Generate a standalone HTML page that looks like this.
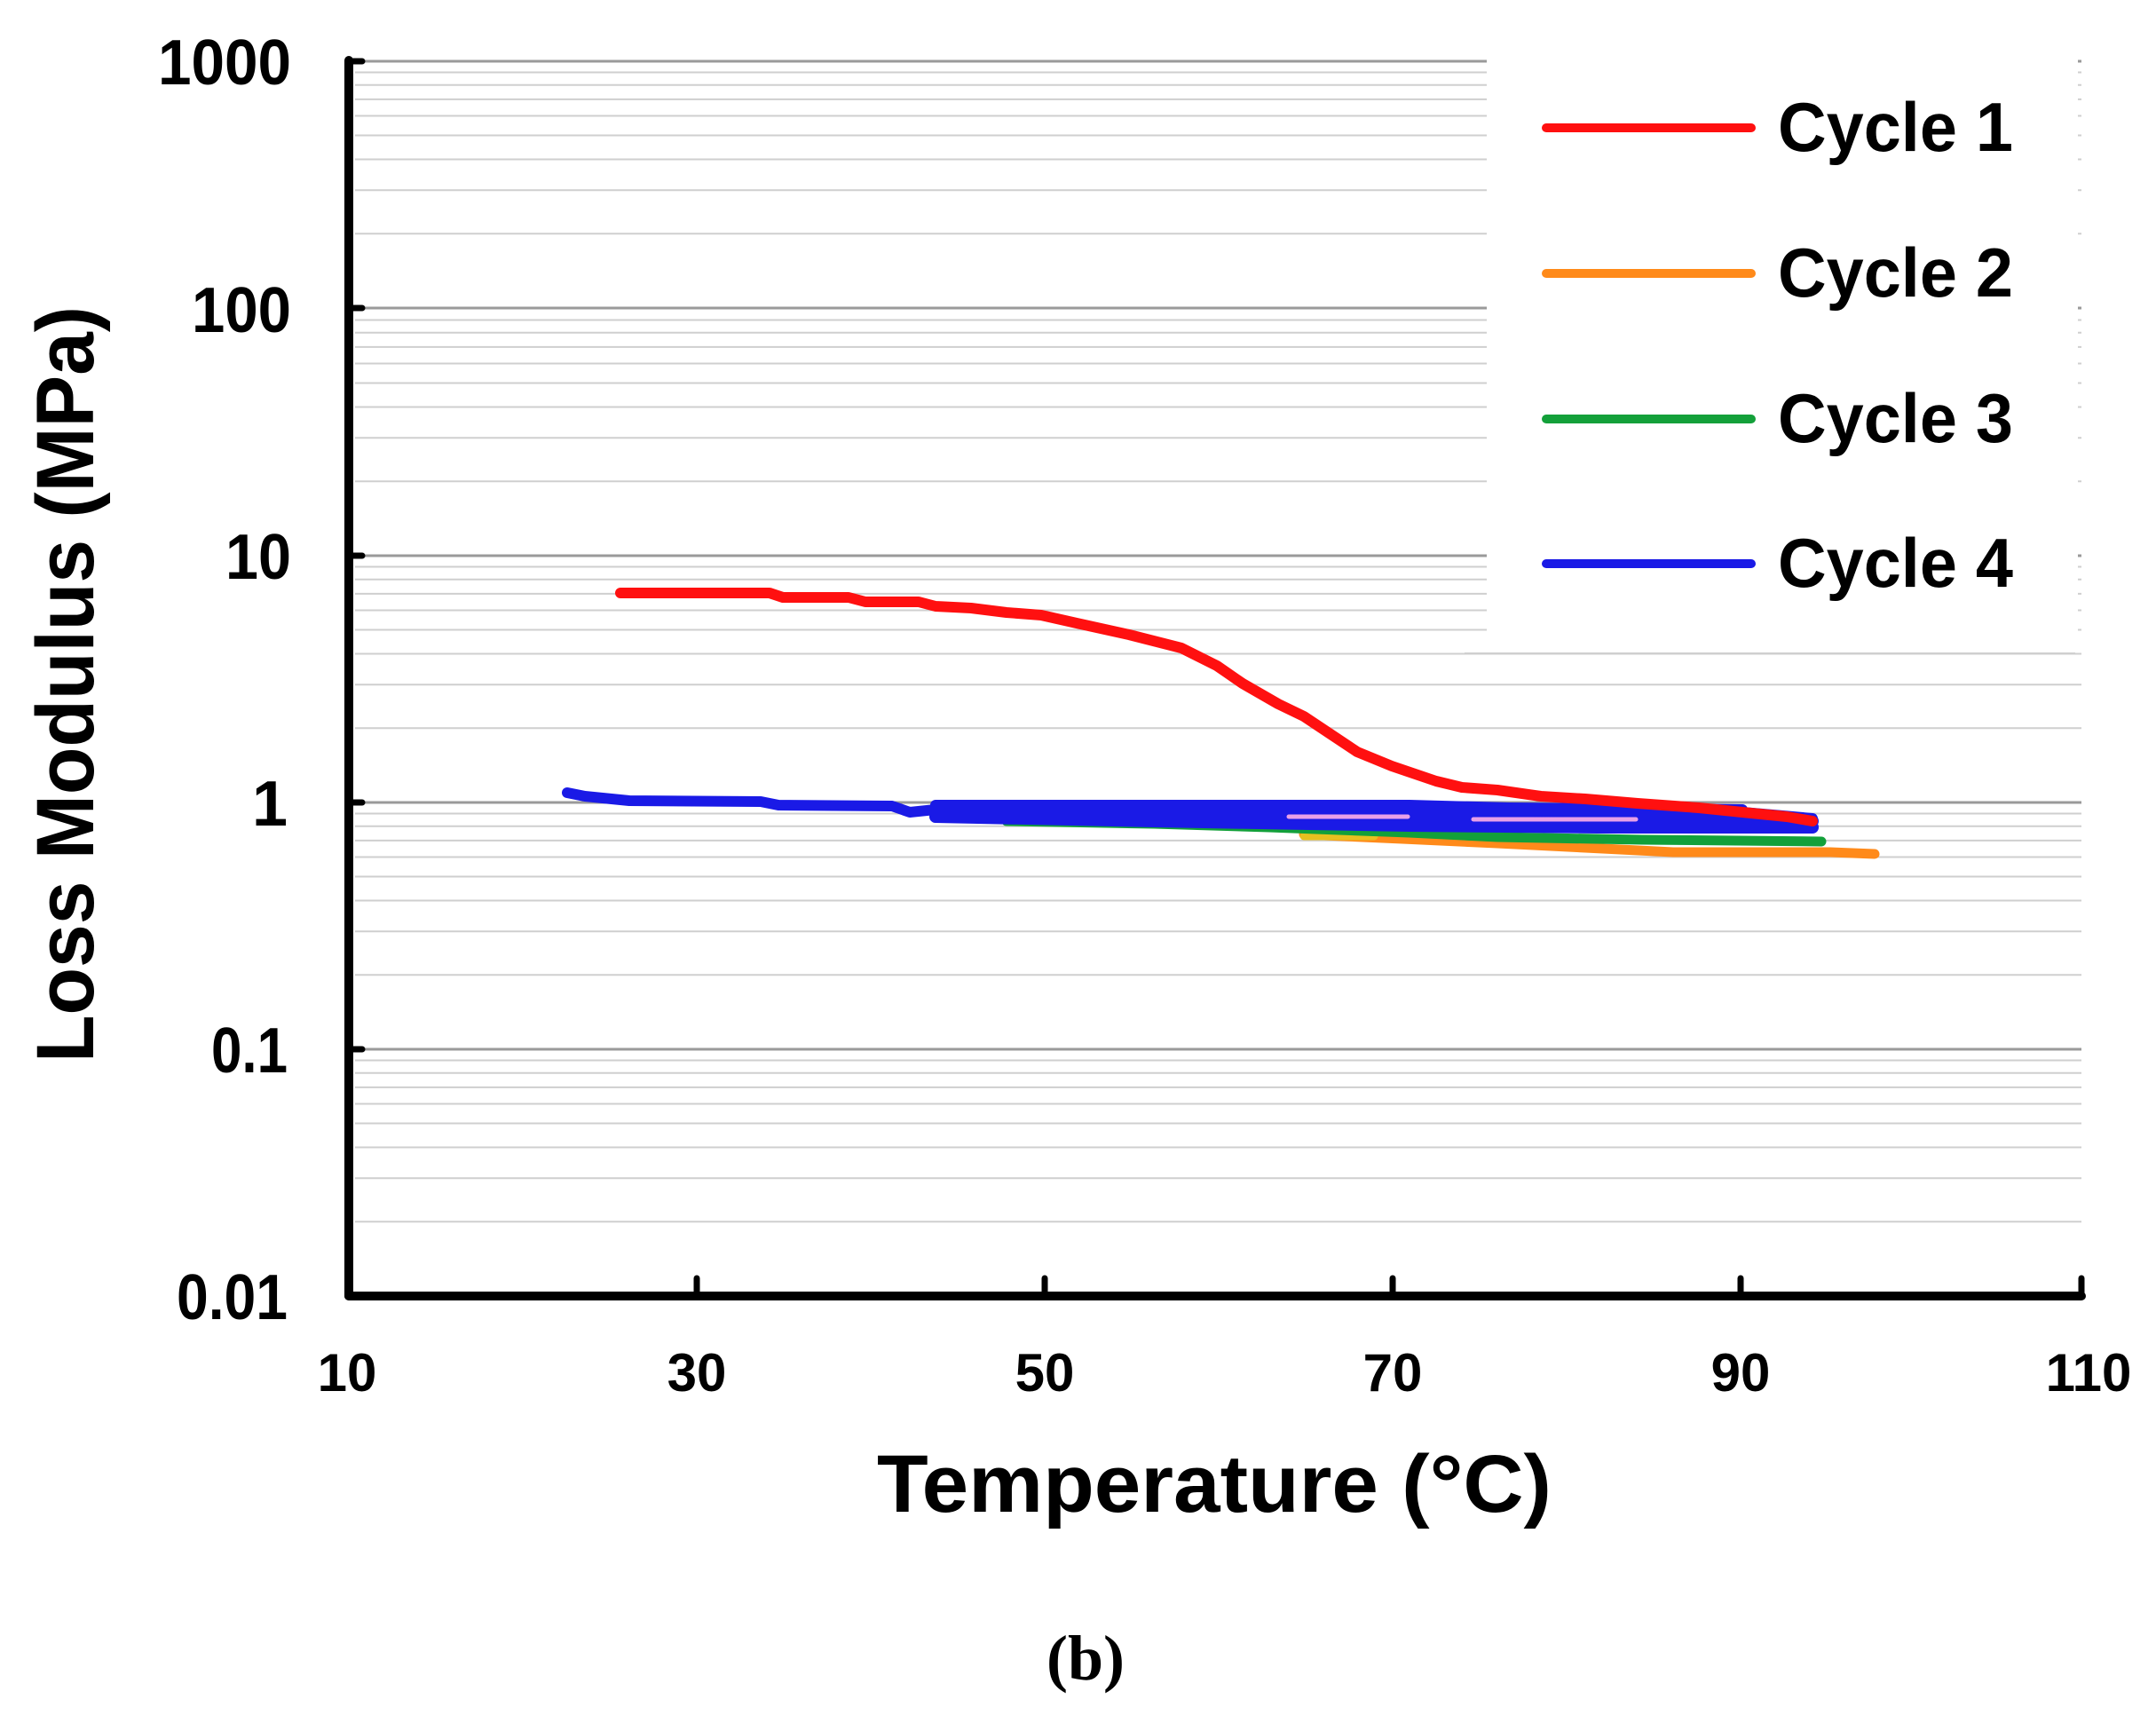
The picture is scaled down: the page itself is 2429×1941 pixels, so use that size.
<!DOCTYPE html>
<html><head><meta charset="utf-8"><style>
html,body{margin:0;padding:0;background:#fff;}
svg{display:block;}
</style></head><body>
<svg width="2429" height="1941" viewBox="0 0 2429 1941" xmlns="http://www.w3.org/2000/svg">
<defs>
<g id="dec">
<line x1="400" x2="2345" y1="-83.7" y2="-83.7"/>
<line x1="400" x2="2345" y1="-132.8" y2="-132.8"/>
<line x1="400" x2="2345" y1="-167.5" y2="-167.5"/>
<line x1="400" x2="2345" y1="-194.5" y2="-194.5"/>
<line x1="400" x2="2345" y1="-216.5" y2="-216.5"/>
<line x1="400" x2="2345" y1="-235.1" y2="-235.1"/>
<line x1="400" x2="2345" y1="-251.2" y2="-251.2"/>
<line x1="400" x2="2345" y1="-265.5" y2="-265.5"/>
</g>
</defs>
<rect width="2429" height="1941" fill="#fff"/>
<g stroke="#cfcfcf" stroke-width="2">
<use href="#dec" transform="translate(0,1460)"/>
<use href="#dec" transform="translate(0,1182)"/>
<use href="#dec" transform="translate(0,904)"/>
<use href="#dec" transform="translate(0,626)"/>
<use href="#dec" transform="translate(0,347)"/>
</g>
<g stroke="#9a9a9a" stroke-width="3">
<line x1="400" x2="2345" y1="69" y2="69"/>
<line x1="400" x2="2345" y1="347" y2="347"/>
<line x1="400" x2="2345" y1="626" y2="626"/>
<line x1="400" x2="2345" y1="904" y2="904"/>
<line x1="400" x2="2345" y1="1182" y2="1182"/>
</g>
<rect x="1675" y="60" width="666" height="675" fill="#fff"/>
<line x1="1650" x2="2338" y1="736" y2="736" stroke="#cfcfcf" stroke-width="2"/>
<g stroke-linecap="round" stroke-width="10" fill="none">
<line x1="1742" x2="1973" y1="144" y2="144" stroke="#ff1010"/>
<line x1="1742" x2="1973" y1="308" y2="308" stroke="#ff8a1a"/>
<line x1="1742" x2="1973" y1="472" y2="472" stroke="#13a03a"/>
<line x1="1742" x2="1973" y1="635" y2="635" stroke="#1a1ae6"/>
</g>
<g font-family="Liberation Sans, sans-serif" font-weight="bold" font-size="78" fill="#000">
<text x="2003" y="170" textLength="265" lengthAdjust="spacingAndGlyphs">Cycle 1</text>
<text x="2003" y="334" textLength="265" lengthAdjust="spacingAndGlyphs">Cycle 2</text>
<text x="2003" y="498" textLength="265" lengthAdjust="spacingAndGlyphs">Cycle 3</text>
<text x="2003" y="661" textLength="265" lengthAdjust="spacingAndGlyphs">Cycle 4</text>
</g>
<g fill="none" stroke-linejoin="round" stroke-linecap="round">
<polyline stroke="#ff8a1a" stroke-width="11" points="1469,940 1580,945 1687,950 1786,955 1885,960 2062,960 2112,962"/>
<polyline stroke="#e8c020" stroke-width="9" points="1469,942 1548,942"/>
<polyline stroke="#13a03a" stroke-width="11" points="1134,925 1300,928 1430,932 1588,938 1687,943 1850,946 2052,948"/>
<polyline stroke="#1a1ae6" stroke-width="14" points="1054,920 1300,925 1588,930 1800,932 2042,932"/>
<polyline stroke="#1a1ae6" stroke-width="14" points="1054,914 1300,916 1588,920 1800,922 2042,925"/>
<polyline stroke="#1a1ae6" stroke-width="12" points="639,893 659,897 709,902 857,903 877,907 1005,908 1025,915 1054,912 1300,912 1588,912 1800,915 1963,915 2042,922"/>
<polyline stroke="#1a1ae6" stroke-width="12" points="1054,907 1588,907 1700,910 1963,912"/>
<polyline stroke="#e8a0e8" stroke-width="5" points="1452,920 1586,920"/>
<polyline stroke="#e8a0e8" stroke-width="5" points="1660,923 1843,923"/>
<polyline stroke="#ff1010" stroke-width="12" points="699,668 867,668 882,673 956,673 975,678 1035,678 1054,683 1094,685 1134,690 1173,693 1213,702 1272,715 1331,730 1371,750 1400,770 1440,793 1469,807 1499,827 1529,847 1568,863 1618,880 1647,887 1687,890 1736,897 1786,900 1845,905 1914,910 1963,915 2013,920 2042,925"/>
</g>
<g stroke="#000" stroke-linecap="round">
<line x1="393" y1="68" x2="393" y2="1460" stroke-width="10"/>
<line x1="393" y1="1460" x2="2345" y2="1460" stroke-width="10"/>
<g stroke-width="7">
<line x1="393" x2="408" y1="69" y2="69"/>
<line x1="393" x2="408" y1="347" y2="347"/>
<line x1="393" x2="408" y1="626" y2="626"/>
<line x1="393" x2="408" y1="904" y2="904"/>
<line x1="393" x2="408" y1="1182" y2="1182"/>
<line x1="785" x2="785" y1="1440" y2="1460"/>
<line x1="1177" x2="1177" y1="1440" y2="1460"/>
<line x1="1569" x2="1569" y1="1440" y2="1460"/>
<line x1="1961" x2="1961" y1="1440" y2="1460"/>
<line x1="2345" x2="2345" y1="1440" y2="1460"/>
</g>
</g>
<g font-family="Liberation Sans, sans-serif" font-weight="bold" fill="#000" font-size="72" text-anchor="end">
<text x="328" y="95" textLength="150" lengthAdjust="spacingAndGlyphs">1000</text>
<text x="328" y="374" textLength="112" lengthAdjust="spacingAndGlyphs">100</text>
<text x="328" y="652" textLength="74" lengthAdjust="spacingAndGlyphs">10</text>
<text x="324" y="930">1</text>
<text x="324" y="1208" textLength="86" lengthAdjust="spacingAndGlyphs">0.1</text>
<text x="324" y="1486" textLength="125" lengthAdjust="spacingAndGlyphs">0.01</text>
</g>
<g font-family="Liberation Sans, sans-serif" font-weight="bold" fill="#000" font-size="60" text-anchor="middle">
<text x="391" y="1567">10</text>
<text x="785" y="1567">30</text>
<text x="1177" y="1567">50</text>
<text x="1569" y="1567">70</text>
<text x="1961" y="1567">90</text>
<text x="2353" y="1567">110</text>
</g>
<text x="988" y="1703" font-family="Liberation Sans, sans-serif" font-weight="bold" font-size="92" textLength="760" lengthAdjust="spacingAndGlyphs">Temperature (°C)</text>
<text transform="translate(105,1197) rotate(-90)" font-family="Liberation Sans, sans-serif" font-weight="bold" font-size="92" textLength="852" lengthAdjust="spacingAndGlyphs">Loss Modulus (MPa)</text>
<text x="1223" y="1892" text-anchor="middle" font-family="Liberation Serif, serif" font-weight="bold" font-size="72">(b)</text>
</svg>
</body></html>
